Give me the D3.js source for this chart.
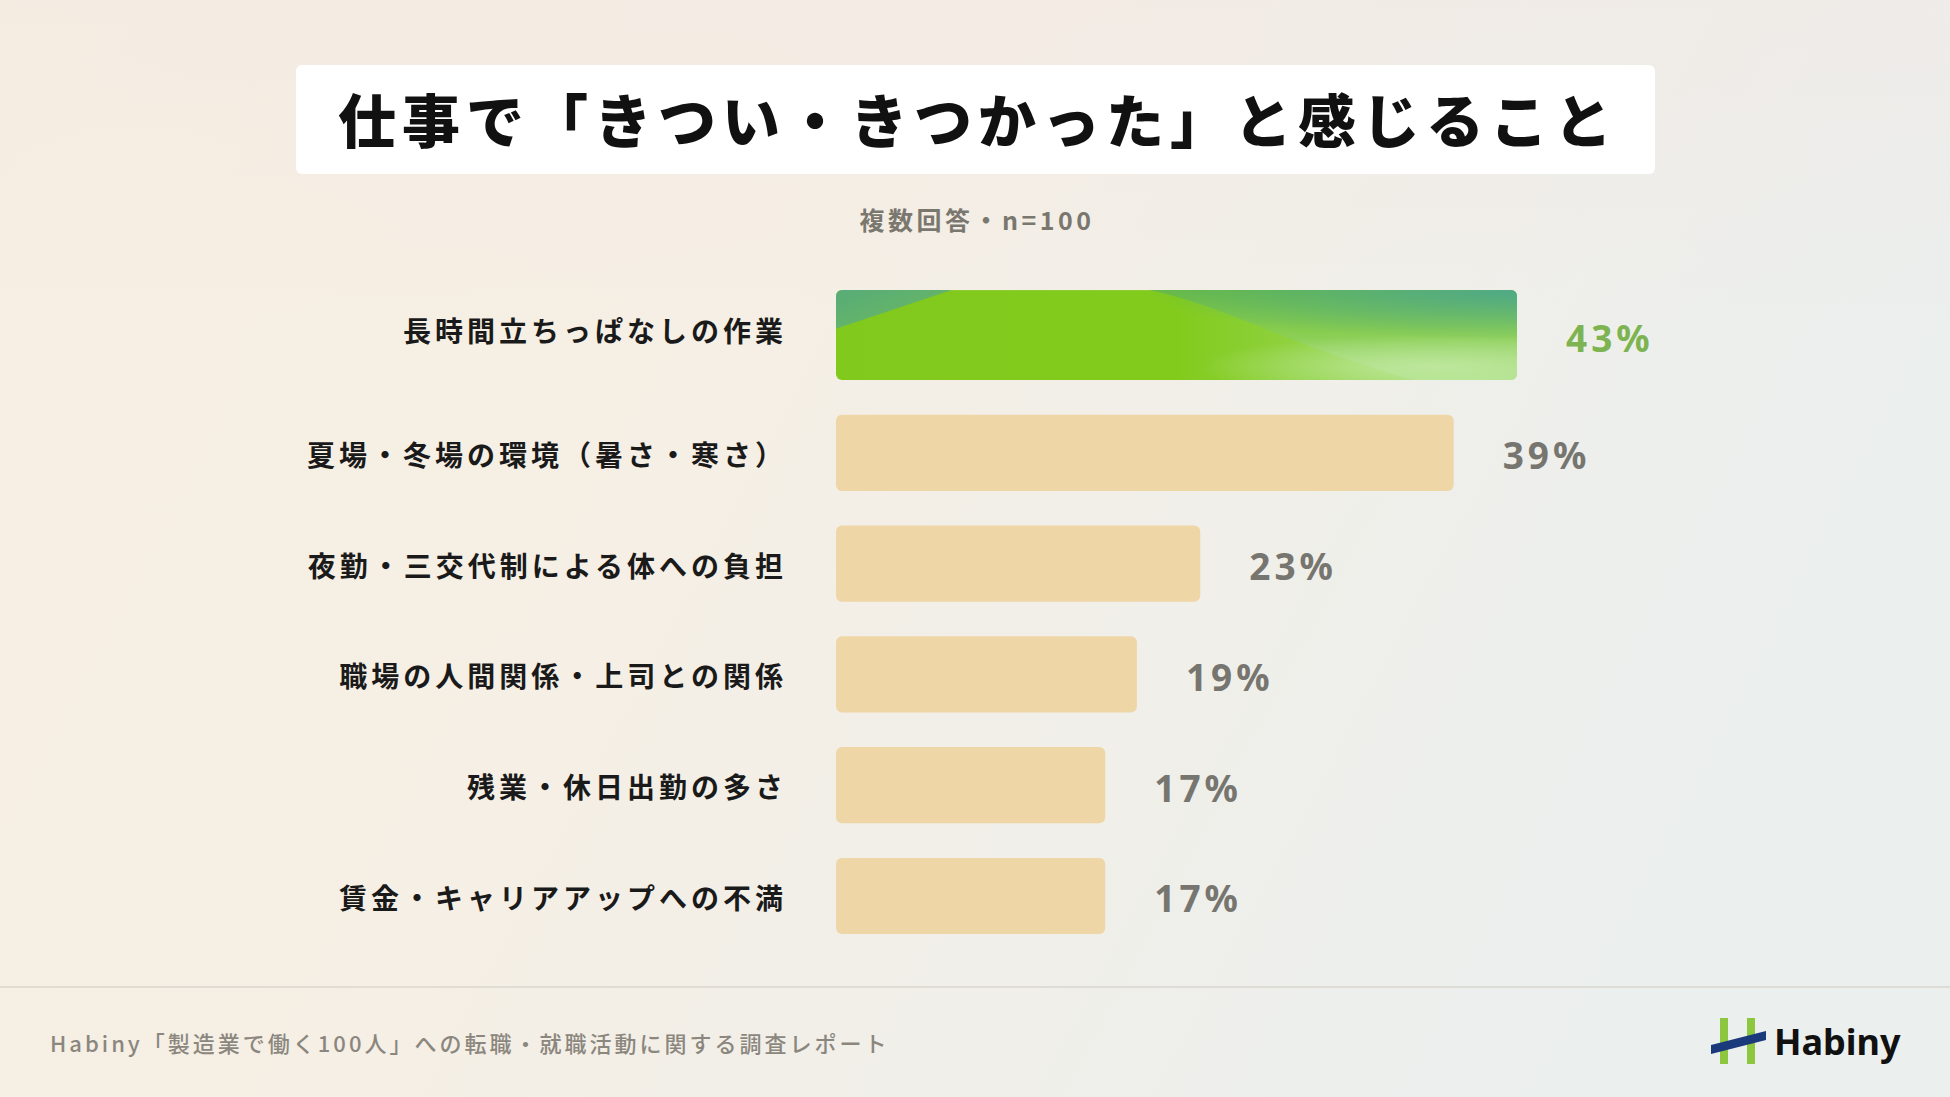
<!DOCTYPE html>
<html>
<head>
<meta charset="utf-8">
<script src="https://cdn.jsdelivr.net/npm/d3@7"></script>
<style>
  html, body { margin: 0; padding: 0; width: 1950px; height: 1097px; overflow: hidden; }
  svg { display: block; }
</style>
</head>
<body>
<script>
// ---- data ----
const titleText = "仕事で「きつい・きつかった」と感じること";
const subtitleText = "複数回答・n=100";
const categories = [
  "長時間立ちっぱなしの作業",
  "夏場・冬場の環境（暑さ・寒さ）",
  "夜勤・三交代制による体への負担",
  "職場の人間関係・上司との関係",
  "残業・休日出勤の多さ",
  "賃金・キャリアアップへの不満"
];
const values = [43, 39, 23, 19, 17, 17];
const footerText = "Habiny「製造業で働く100人」への転職・就職活動に関する調査レポート";
const brandText = "Habiny";

// ---- setup ----
const W = 1950, H = 1097;
const svg = d3.select("body").append("svg").attr("width", W).attr("height", H);
const defs = svg.append("defs");

// background gradients
const bg = defs.append("linearGradient").attr("id", "bg").attr("x1", "0").attr("y1", "0").attr("x2", "1").attr("y2", "0.3");
bg.append("stop").attr("offset", "0").attr("stop-color", "#f7efe2");
bg.append("stop").attr("offset", "0.45").attr("stop-color", "#f5efe5");
bg.append("stop").attr("offset", "1").attr("stop-color", "#ebefee");
const bgTop = defs.append("linearGradient").attr("id", "bgTop").attr("x1", "0").attr("y1", "0").attr("x2", "0").attr("y2", "1");
bgTop.append("stop").attr("offset", "0").attr("stop-color", "#f1e6e2").attr("stop-opacity", 0.4);
bgTop.append("stop").attr("offset", "0.3").attr("stop-color", "#f1e6e2").attr("stop-opacity", 0);
svg.append("rect").attr("width", W).attr("height", H).attr("fill", "url(#bg)");
svg.append("rect").attr("width", W).attr("height", H).attr("fill", "url(#bgTop)");

// title box
svg.append("rect").attr("x", 296).attr("y", 65).attr("width", 1359).attr("height", 109).attr("rx", 6).attr("fill", "#ffffff");
svg.append("text").attr("x", 978).attr("y", 118)
  .attr("text-anchor", "middle").attr("dominant-baseline", "central")
  .attr("font-family", "'Noto Sans CJK JP', sans-serif").attr("font-weight", 900)
  .attr("font-size", 58).attr("letter-spacing", 6).attr("fill", "#111111")
  .text(titleText);

// subtitle
svg.append("text").attr("x", 977).attr("y", 219)
  .attr("text-anchor", "middle").attr("dominant-baseline", "central")
  .attr("font-family", "'Noto Sans CJK JP', sans-serif").attr("font-weight", 700)
  .attr("font-size", 25).attr("letter-spacing", 3.5).attr("fill", "#7a776f")
  .text(subtitleText);

// ---- scales ----
const x = d3.scaleLinear().domain([0, d3.max(values)]).range([836, 1517]);
const y = d3.scaleBand().domain(categories).range([304, 934]).paddingInner(0.313).paddingOuter(0);
const bw = y.bandwidth();
const hiH = 90;
const data = categories.map((c, i) => ({ cat: c, val: values[i], hi: i === 0 }));
const barTop = d => d.hi ? y(d.cat) + bw - hiH : y(d.cat);
const barH = d => d.hi ? hiH : bw;

// highlight gradients
const hd = data[0];
const hx0 = x(0), hw = x(hd.val) - x(0), hy0 = barTop(hd), hh = barH(hd);
defs.append("clipPath").attr("id", "hiClip").append("rect")
  .attr("x", hx0).attr("y", hy0).attr("width", hw).attr("height", hh).attr("rx", 6);
const g1 = defs.append("linearGradient").attr("id", "hiBase").attr("x1", "0").attr("y1", "0").attr("x2", "1").attr("y2", "0");
g1.append("stop").attr("offset", "0").attr("stop-color", "#82c91d");
g1.append("stop").attr("offset", "0.5").attr("stop-color", "#82cb1c");
g1.append("stop").attr("offset", "0.72").attr("stop-color", "#93d34a");
g1.append("stop").attr("offset", "1").attr("stop-color", "#b3e291");
const g2 = defs.append("linearGradient").attr("id", "hiRight").attr("x1", "0").attr("y1", "0").attr("x2", "0").attr("y2", "1");
g2.append("stop").attr("offset", "0").attr("stop-color", "#64b84a");
g2.append("stop").attr("offset", "0.45").attr("stop-color", "#86cc50");
g2.append("stop").attr("offset", "1").attr("stop-color", "#aee08a");
const g3 = defs.append("radialGradient").attr("id", "hiCorner").attr("cx", "1").attr("cy", "0").attr("r", "0.55");
g3.append("stop").attr("offset", "0").attr("stop-color", "#4ea88a").attr("stop-opacity", 0.95);
g3.append("stop").attr("offset", "1").attr("stop-color", "#4ea88a").attr("stop-opacity", 0);
const g4 = defs.append("radialGradient").attr("id", "hiLight").attr("cx", "0.88").attr("cy", "0.85").attr("r", "0.35");
g4.append("stop").attr("offset", "0").attr("stop-color", "#c4eaa5").attr("stop-opacity", 0.8);
g4.append("stop").attr("offset", "1").attr("stop-color", "#c4eaa5").attr("stop-opacity", 0);
const g5 = defs.append("linearGradient").attr("id", "hiTL").attr("x1", "0").attr("y1", "0").attr("x2", "1").attr("y2", "1");
g5.append("stop").attr("offset", "0").attr("stop-color", "#58ac78");
g5.append("stop").attr("offset", "1").attr("stop-color", "#6cba5c");

// ---- bars ----
const barsG = svg.append("g");
barsG.selectAll("rect.bar").data(data.filter(d => !d.hi)).join("rect")
  .attr("class", "bar")
  .attr("x", x(0)).attr("y", barTop)
  .attr("width", d => x(d.val) - x(0)).attr("height", barH)
  .attr("rx", 6).attr("fill", "#efd6a7");

const hiG = svg.append("g").attr("clip-path", "url(#hiClip)");
hiG.append("rect").attr("x", hx0).attr("y", hy0).attr("width", hw).attr("height", hh).attr("fill", "url(#hiBase)");
hiG.append("path").attr("fill", "url(#hiTL)")
  .attr("d", `M${hx0},${hy0} L${hx0 + 0.17 * hw},${hy0} L${hx0},${hy0 + 0.43 * hh} Z`);
hiG.append("path").attr("fill", "url(#hiRight)")
  .attr("d", `M${hx0 + 0.46 * hw},${hy0} C${hx0 + 0.58 * hw},${hy0 + 0.2 * hh} ${hx0 + 0.66 * hw},${hy0 + 0.6 * hh} ${hx0 + 0.85 * hw},${hy0 + hh} L${hx0 + hw},${hy0 + hh} L${hx0 + hw},${hy0} Z`)
  .attr("opacity", 0.9);
hiG.append("rect").attr("x", hx0).attr("y", hy0).attr("width", hw).attr("height", hh).attr("fill", "url(#hiLight)");
hiG.append("rect").attr("x", hx0).attr("y", hy0).attr("width", hw).attr("height", hh).attr("fill", "url(#hiCorner)");

// ---- category labels ----
svg.append("g").selectAll("text").data(data).join("text")
  .attr("x", 787)
  .attr("y", d => d.hi ? barTop(d) + barH(d) / 2 - 5 : barTop(d) + barH(d) / 2 + 1)
  .attr("text-anchor", "end").attr("dominant-baseline", "central")
  .attr("font-family", "'Noto Sans CJK JP', sans-serif").attr("font-weight", 700)
  .attr("font-size", 28).attr("letter-spacing", 4).attr("fill", "#1a1a1a")
  .text(d => d.cat);

// ---- value labels ----
svg.append("g").selectAll("text").data(data).join("text")
  .attr("x", d => x(d.val) + 49)
  .attr("y", d => barTop(d) + barH(d) / 2 + 2)
  .attr("dominant-baseline", "central")
  .attr("font-family", "'Noto Sans', sans-serif").attr("font-weight", 700)
  .attr("font-size", 37).attr("letter-spacing", 4)
  .attr("fill", d => d.hi ? "#7db451" : "#77756f")
  .text(d => d.val + "%");

// ---- footer ----
svg.append("line").attr("x1", 0).attr("x2", W).attr("y1", 987).attr("y2", 987)
  .attr("stroke", "#dad6ce").attr("stroke-width", 1.5);
svg.append("text").attr("x", 50).attr("y", 1042).attr("dominant-baseline", "central")
  .attr("font-family", "'Noto Sans CJK JP', sans-serif").attr("font-weight", 500)
  .attr("font-size", 22).attr("letter-spacing", 3).attr("fill", "#8b877f")
  .text(footerText);

// logo
const logo = svg.append("g");
logo.append("rect").attr("x", 1720).attr("y", 1018).attr("width", 8).attr("height", 46).attr("fill", "#8dc63f");
logo.append("rect").attr("x", 1747).attr("y", 1018).attr("width", 8).attr("height", 46).attr("fill", "#8dc63f");
logo.append("path").attr("d", "M1711,1045 L1766,1031 L1766,1040 L1711,1054 Z").attr("fill", "#1b3a7c");
logo.append("text").attr("x", 1774).attr("y", 1055)
  .attr("font-family", "'Noto Sans', sans-serif").attr("font-weight", 700)
  .attr("font-size", 36).attr("fill", "#111111").text(brandText);
</script>
</body>
</html>
